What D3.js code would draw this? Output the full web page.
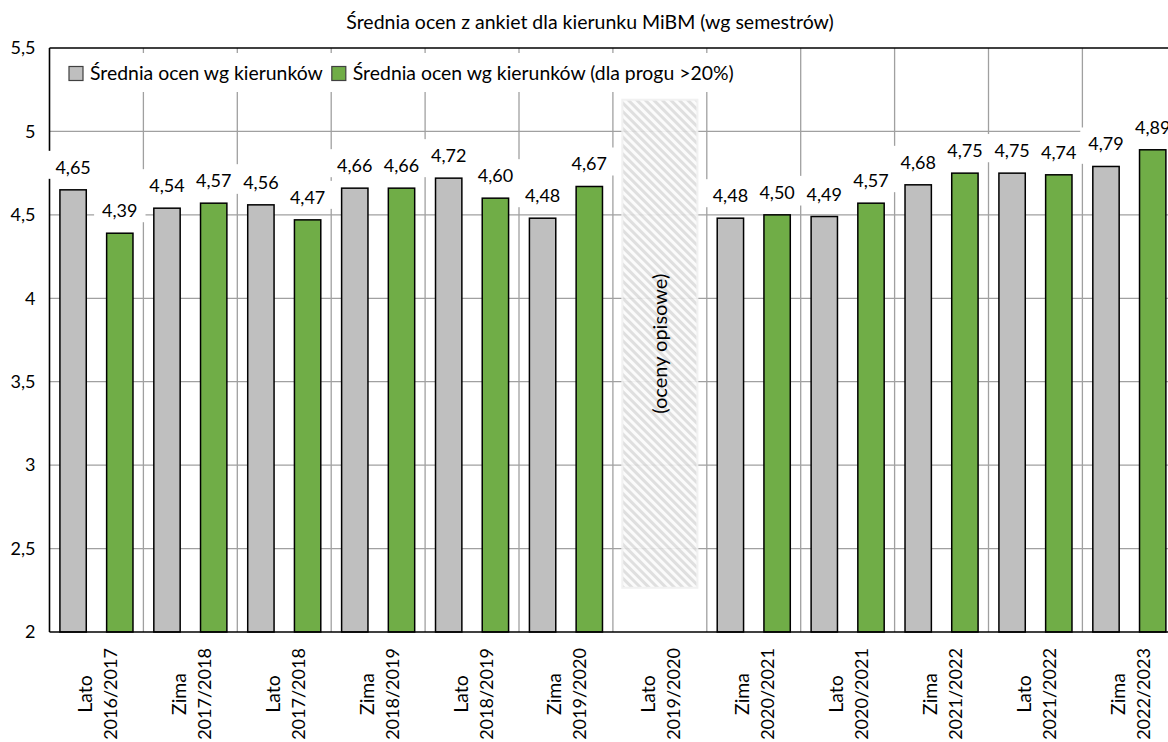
<!DOCTYPE html>
<html><head><meta charset="utf-8">
<script src="https://cdn.jsdelivr.net/npm/d3@7"></script>
<style>
body{margin:0;background:#fff}
svg{display:block}
text{font-family:Lato,"Open Sans",sans-serif;fill:#000}
</style>
</head><body>
<svg id="c" width="1168" height="742"></svg>
<script>
// ---- data ----
const seasons = ["Lato","Zima","Lato","Zima","Lato","Zima","Lato","Zima","Lato","Zima","Lato","Zima"];
const years = ["2016/2017","2017/2018","2017/2018","2018/2019","2018/2019","2019/2020","2019/2020","2020/2021","2020/2021","2021/2022","2021/2022","2022/2023"];
const seriesNames = ["Średnia ocen wg kierunków","Średnia ocen wg kierunków (dla progu >20%)"];
const valuesAll = [4.65,4.54,4.56,4.66,4.72,4.48,null,4.48,4.49,4.68,4.75,4.79];
const valuesThreshold = [4.39,4.57,4.47,4.66,4.60,4.67,null,4.50,4.57,4.75,4.74,4.89];
const yTickValues = [2,2.5,3,3.5,4,4.5,5,5.5];
const yTickLabels = ["2","2,5","3","3,5","4","4,5","5","5,5"];
const valueLabels = v => v.toFixed(2).replace(".", ",");
const titleText = "Średnia ocen z ankiet dla kierunku MiBM (wg semestrów)";
const noteCategory = 6;
const noteText = "(oceny opisowe)";
const noteRange = [2.265, 5.19];
const colors = ["#bfbfbf","#70ad47"];

// ---- layout ----
const svg = d3.select("#c");
const pLeft = 49.5, pTop = 48, pBottom = 632, step = 93.9;
const n = seasons.length;
const x = d3.scaleBand().domain(d3.range(n)).range([pLeft, pLeft + n*step]).padding(0);
const xs = d3.scaleBand().domain([0,1]).range([0, x.bandwidth()]).paddingInner(0.436).paddingOuter(0.223);
const y = d3.scaleLinear().domain([2,5.5]).range([pBottom, pTop]);
const FS = 18;      // numbers
const FT = 19.4;    // words
const FF = 'Lato,"Open Sans",sans-serif';

// defs: hatch
const defs = svg.append("defs");
const pat = defs.append("pattern").attr("id","hatch").attr("patternUnits","userSpaceOnUse")
  .attr("width",6).attr("height",6).attr("patternTransform","rotate(-45)");
pat.append("rect").attr("width",6).attr("height",6).attr("fill","#fbfbfb");
pat.append("line").attr("x1",1.5).attr("y1",0).attr("x2",1.5).attr("y2",6).attr("stroke","#dcdcdc").attr("stroke-width",3);

// title
svg.append("text").attr("x",590).attr("y",29).attr("text-anchor","middle")
  .style("font-size","19.5px").text(titleText);

// horizontal gridlines
svg.append("g").selectAll("line").data(yTickValues.filter(v => v > 2 && v < 5.5)).join("line")
  .attr("x1",pLeft).attr("x2",1168).attr("y1",d=>y(d)).attr("y2",d=>y(d))
  .attr("stroke","#a0a0a0").attr("stroke-width",1.3);
// vertical gridlines
svg.append("g").selectAll("line").data(d3.range(1,n)).join("line")
  .attr("x1",d=>x(d)).attr("x2",d=>x(d)).attr("y1",pTop).attr("y2",pBottom)
  .attr("stroke","#a0a0a0").attr("stroke-width",1.3);

// note (hatched)
svg.append("rect")
  .attr("x", x(noteCategory) + xs(0) - 1).attr("width", xs(1) + xs.bandwidth() - xs(0) + 2)
  .attr("y", y(noteRange[1])).attr("height", y(noteRange[0]) - y(noteRange[1]))
  .attr("fill","url(#hatch)").attr("opacity",0.9).attr("stroke","#f0f0f0").attr("stroke-width",2);
svg.append("text")
  .attr("transform",`translate(${x(noteCategory)+x.bandwidth()/2 + 7},${(y(noteRange[0])+y(noteRange[1]))/2}) rotate(-90)`)
  .attr("text-anchor","middle").style("font-size","20px").text(noteText);

// bars
const series = [valuesAll, valuesThreshold];
const barData = [];
series.forEach((vals, s) => vals.forEach((v, i) => { if (v != null) barData.push({i, s, v}); }));
svg.append("g").selectAll("rect").data(barData).join("rect")
  .attr("x", d => x(d.i) + xs(d.s)).attr("width", xs.bandwidth())
  .attr("y", d => y(d.v)).attr("height", d => y(2) - y(d.v))
  .attr("fill", d => colors[d.s]).attr("stroke","#000").attr("stroke-width",1.5);

// axes
const yAxis = svg.append("g").attr("transform",`translate(${pLeft},0)`)
  .call(d3.axisLeft(y).tickValues(yTickValues).tickFormat((d,i)=>yTickLabels[i]).tickSize(0).tickPadding(14));
yAxis.select(".domain").remove();
yAxis.selectAll("text").style("font-size",FS+"px").style("font-family",FF).attr("fill","#000");

const xAxis = svg.append("g").attr("transform",`translate(0,${pBottom})`)
  .call(d3.axisBottom(x).tickSize(0).tickFormat(""));
xAxis.select(".domain").remove();
xAxis.selectAll(".tick").each(function(d){
  const g = d3.select(this).append("g").attr("transform","translate(0,62) rotate(-90)");
  g.append("text").attr("x",0).attr("y",-4.5).attr("text-anchor","middle").attr("fill","#000")
    .style("font-size",FT+"px").style("font-family",FF).text(seasons[d]);
  g.append("text").attr("x",0).attr("y",20.5).attr("text-anchor","middle").attr("fill","#000")
    .style("font-size",FS+"px").style("font-family",FF).text(years[d]);
});

// axis lines
svg.append("line").attr("x1",pLeft).attr("x2",pLeft).attr("y1",pTop).attr("y2",pBottom).attr("stroke","#000").attr("stroke-width",1.6);
svg.append("line").attr("x1",pLeft).attr("x2",1168).attr("y1",pBottom).attr("y2",pBottom).attr("stroke","#000").attr("stroke-width",1.6);
svg.append("line").attr("x1",pLeft).attr("x2",1168).attr("y1",pTop).attr("y2",pTop).attr("stroke","#000").attr("stroke-width",1.6);

// data labels with white boxes
const lg = svg.append("g");
barData.forEach(d => {
  const cx = x(d.i) + xs(d.s) + xs.bandwidth()/2;
  const by = y(d.v) - 16;
  const g = lg.append("g");
  const r = g.append("rect").attr("fill","#fff");
  const t = g.append("text").attr("x",cx).attr("y",by).attr("text-anchor","middle")
    .style("font-size",FS+"px").text(valueLabels(d.v));
  const w = t.node().getComputedTextLength();
  r.attr("x",cx - w/2 - 8).attr("width",w + 16).attr("y",by - 23).attr("height",28);
});

// legend
const leg = svg.append("g");
const legBox = leg.append("rect").attr("x",58).attr("y",53).attr("height",39).attr("fill","#fff");
let lx = 69;
seriesNames.forEach((name, s) => {
  leg.append("rect").attr("x",lx).attr("y",66.5).attr("width",14).attr("height",14)
    .attr("fill",colors[s]).attr("stroke","#404040").attr("stroke-width",1.2);
  const t = leg.append("text").attr("x",lx+21).attr("y",80).style("font-size",FT+"px").text(name);
  lx = lx + 21 + t.node().getComputedTextLength() + 9;
});
legBox.attr("width", lx - 58 + 6);
</script>
</body></html>
